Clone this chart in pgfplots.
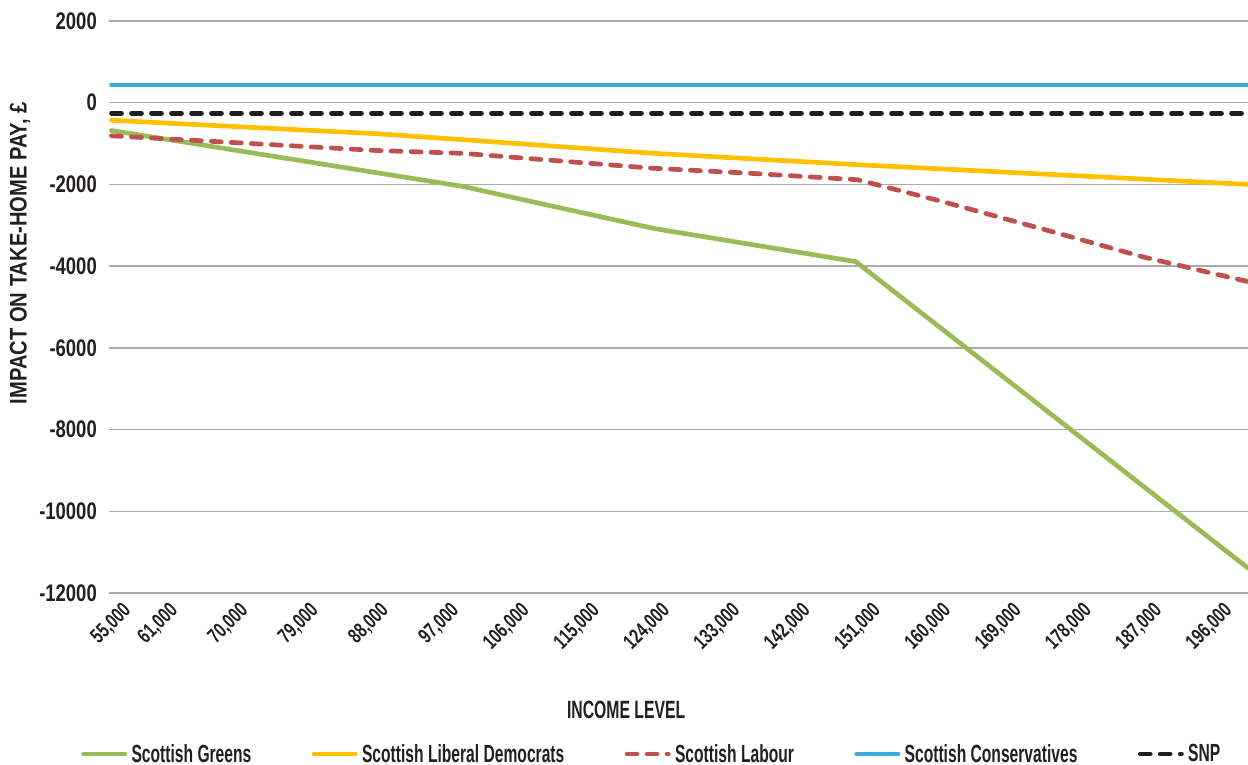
\documentclass[border=0pt]{standalone}
\usepackage{pgfplots}
\pgfplotsset{compat=1.18}
\usepackage{fontspec}
\setmainfont{Liberation Sans}
\newfontfamily\fYtick{Liberation Sans}[FakeStretch=0.77]
\newfontfamily\fXtick{Liberation Sans}[FakeStretch=0.72]
\newfontfamily\fXlab{Liberation Sans}[FakeStretch=0.63]
\newfontfamily\fYlab{Liberation Sans}[FakeStretch=0.84]
\newfontfamily\fLeg{Liberation Sans}[FakeStretch=0.63]
\definecolor{cgreen}{HTML}{9BBB59}
\definecolor{cyellow}{HTML}{FFC000}
\definecolor{cred}{HTML}{C0504D}
\definecolor{cblue}{HTML}{3FA8DE}
\definecolor{cblack}{HTML}{1E1E1E}
\definecolor{gridgray}{HTML}{ABABAB}
\definecolor{txt}{HTML}{231F20}
\begin{document}
\begin{tikzpicture}
\path[use as bounding box] (0,0) rectangle (1248pt,765pt);
\begin{axis}[
  at={(109pt,172pt)}, anchor=south west,
  width=1139pt, height=572pt, scale only axis,
  xmin=54680, xmax=200520, ymin=-12000, ymax=2000,
  scaled ticks=false,
  axis line style={draw=none},
  major tick length=0pt,
  xtick={55000,61000,70000,79000,88000,97000,106000,115000,124000,133000,142000,151000,160000,169000,178000,187000,196000},
  xticklabels={{55,000},{61,000},{70,000},{79,000},{88,000},{97,000},{106,000},{115,000},{124,000},{133,000},{142,000},{151,000},{160,000},{169,000},{178,000},{187,000},{196,000}},
  ytick={-12000,-10000,-8000,-6000,-4000,-2000,0,2000},
  yticklabels={-12000,-10000,-8000,-6000,-4000,-2000,0,2000},
  ymajorgrids,
  grid style={color=gridgray, line width=1.3pt},
  yticklabel style={font=\fYtick\bfseries\fontsize{24}{26}\selectfont, text=txt, anchor=east, inner sep=0pt, xshift=-12pt},
  xticklabel style={font=\fXtick\bfseries\fontsize{21}{23}\selectfont, text=txt, rotate=45, anchor=east, inner sep=0pt, yshift=-22pt, xshift=1pt},
  xlabel={INCOME LEVEL},
  ylabel={IMPACT ON TAKE-HOME PAY, \pounds},
  xlabel style={at={(axis description cs:0.454,-0.2045)}, anchor=center, font=\fXlab\bfseries\fontsize{25}{27}\selectfont, text=txt},
  ylabel style={at={(axis description cs:-0.0781,0.594)}, anchor=center, font=\fYlab\bfseries\fontsize{24}{26}\selectfont, text=txt},
  legend columns=5,
  legend style={at={(axis description cs:0.4755,-0.2815)}, anchor=center, draw=none, fill=none,
    font=\fLeg\bfseries\fontsize{24.8}{26}\selectfont, text=txt,
    nodes={inner xsep=2pt, inner ysep=1pt},
    /tikz/every even column/.append style={column sep=56pt}},
  legend image code/.code={\path (0pt,0pt) (46pt,0pt); \draw[#1] (2.35pt,0pt) -- (43.65pt,0pt);},
  every axis plot/.append style={line width=4.7pt, line cap=round, line join=round},
]
\addplot[cgreen] coordinates {(55000,-680) (100000,-2050) (124500,-3080) (150300,-3890) (200520,-11390)};
\addlegendentry{Scottish Greens}
\addplot[cyellow] coordinates {(55000,-430) (89000,-760) (100000,-905) (124500,-1240) (150300,-1515) (200520,-2000)};
\addlegendentry{Scottish Liberal Democrats}
\addplot[cred, dash pattern=on 10pt off 10pt] coordinates {(55000,-810) (89000,-1170) (100000,-1240) (110700,-1400) (124000,-1600) (137000,-1730) (150500,-1885) (161000,-2400) (174000,-3080) (187000,-3770) (200520,-4380)};
\addlegendentry{Scottish Labour}
\addplot[cblue] coordinates {(55000,430) (200520,430)};
\addlegendentry{Scottish Conservatives}
\addplot[cblack, dash pattern=on 10pt off 10pt] coordinates {(55000,-260) (200520,-260)};
\addlegendentry{SNP}
\end{axis}
\end{tikzpicture}
\end{document}
